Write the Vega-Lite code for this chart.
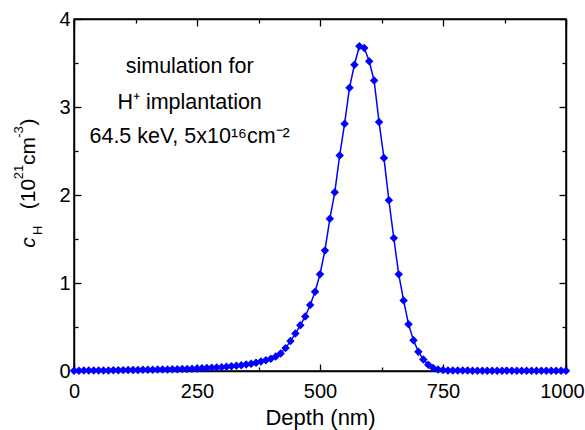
{
  "$schema": "https://vega.github.io/schema/vega-lite/v6.json",
  "width": 492,
  "height": 352,
  "autosize": {"type": "none"},
  "padding": {"left": 74, "top": 19, "right": 19, "bottom": 59},
  "config": {
    "font": "Liberation Sans",
    "view": {"stroke": "black", "strokeWidth": 1.5},
    "axis": {
      "grid": false,
      "domainColor": "black",
      "domainWidth": 1.5,
      "tickColor": "black",
      "tickWidth": 1.3,
      "labelFont": "Liberation Sans",
      "labelFontSize": 20,
      "labelColor": "black",
      "titleFont": "Liberation Sans",
      "titleFontSize": 22,
      "titleFontWeight": "normal",
      "titleColor": "black"
    }
  },
  "data": {
    "values": [
      {"depth": 0, "c": 0.003}, {"depth": 10, "c": 0.004}, {"depth": 20, "c": 0.005}, {"depth": 30, "c": 0.005},
      {"depth": 40, "c": 0.006}, {"depth": 50, "c": 0.006}, {"depth": 60, "c": 0.007}, {"depth": 70, "c": 0.007},
      {"depth": 80, "c": 0.008}, {"depth": 90, "c": 0.009}, {"depth": 100, "c": 0.01}, {"depth": 110, "c": 0.011},
      {"depth": 120, "c": 0.012}, {"depth": 130, "c": 0.012}, {"depth": 140, "c": 0.013}, {"depth": 150, "c": 0.014},
      {"depth": 160, "c": 0.015}, {"depth": 170, "c": 0.016}, {"depth": 180, "c": 0.017}, {"depth": 190, "c": 0.018},
      {"depth": 200, "c": 0.019}, {"depth": 210, "c": 0.02}, {"depth": 220, "c": 0.022}, {"depth": 230, "c": 0.024},
      {"depth": 240, "c": 0.026}, {"depth": 250, "c": 0.028}, {"depth": 260, "c": 0.03}, {"depth": 270, "c": 0.033},
      {"depth": 280, "c": 0.036}, {"depth": 290, "c": 0.04}, {"depth": 300, "c": 0.044}, {"depth": 310, "c": 0.048},
      {"depth": 320, "c": 0.053}, {"depth": 330, "c": 0.059}, {"depth": 340, "c": 0.066}, {"depth": 350, "c": 0.074},
      {"depth": 360, "c": 0.083}, {"depth": 370, "c": 0.094}, {"depth": 380, "c": 0.107}, {"depth": 390, "c": 0.122},
      {"depth": 400, "c": 0.14}, {"depth": 410, "c": 0.165}, {"depth": 420, "c": 0.2}, {"depth": 430, "c": 0.26},
      {"depth": 440, "c": 0.34}, {"depth": 450, "c": 0.425}, {"depth": 460, "c": 0.52}, {"depth": 470, "c": 0.62},
      {"depth": 480, "c": 0.75}, {"depth": 490, "c": 0.9}, {"depth": 500, "c": 1.1}, {"depth": 510, "c": 1.37},
      {"depth": 520, "c": 1.73}, {"depth": 530, "c": 2.03}, {"depth": 540, "c": 2.45}, {"depth": 550, "c": 2.81},
      {"depth": 560, "c": 3.22}, {"depth": 570, "c": 3.48}, {"depth": 580, "c": 3.69}, {"depth": 590, "c": 3.67},
      {"depth": 600, "c": 3.52}, {"depth": 610, "c": 3.3}, {"depth": 620, "c": 2.83}, {"depth": 630, "c": 2.42},
      {"depth": 640, "c": 1.94}, {"depth": 650, "c": 1.51}, {"depth": 660, "c": 1.1}, {"depth": 670, "c": 0.8},
      {"depth": 680, "c": 0.53}, {"depth": 690, "c": 0.35}, {"depth": 700, "c": 0.22}, {"depth": 710, "c": 0.13},
      {"depth": 720, "c": 0.07}, {"depth": 730, "c": 0.035}, {"depth": 740, "c": 0.018}, {"depth": 750, "c": 0.01},
      {"depth": 760, "c": 0.007}, {"depth": 770, "c": 0.006}, {"depth": 780, "c": 0.005}, {"depth": 790, "c": 0.005},
      {"depth": 800, "c": 0.005}, {"depth": 810, "c": 0.004}, {"depth": 820, "c": 0.004}, {"depth": 830, "c": 0.004},
      {"depth": 840, "c": 0.004}, {"depth": 850, "c": 0.004}, {"depth": 860, "c": 0.004}, {"depth": 870, "c": 0.004},
      {"depth": 880, "c": 0.004}, {"depth": 890, "c": 0.004}, {"depth": 900, "c": 0.004}, {"depth": 910, "c": 0.004},
      {"depth": 920, "c": 0.004}, {"depth": 930, "c": 0.004}, {"depth": 940, "c": 0.004}, {"depth": 950, "c": 0.004},
      {"depth": 960, "c": 0.004}, {"depth": 970, "c": 0.004}, {"depth": 980, "c": 0.004}, {"depth": 990, "c": 0.004},
      {"depth": 1000, "c": 0.004}
    ]
  },
  "layer": [
    {
      "mark": {"type": "line", "color": "#0000ff", "strokeWidth": 1.5},
      "encoding": {
        "x": {
          "field": "depth", "type": "quantitative",
          "scale": {"domain": [0, 1000], "nice": false, "zero": false},
          "axis": {
            "orient": "bottom",
            "title": "Depth (nm)",
            "titlePadding": 6,
            "values": [0, 125, 250, 375, 500, 625, 750, 875, 1000],
            "format": "d",
            "labelExpr": "datum.value % 250 === 0 ? datum.label : ''",
            "tickSize": {"condition": {"test": "datum.value % 250 === 0", "value": -7}, "value": -4},
            "labelOffset": {"condition": {"test": "datum.value === 1000", "value": -4}, "value": 0},
            "labelPadding": 17,
            "labelFlush": false
          }
        },
        "y": {
          "field": "c", "type": "quantitative",
          "scale": {"domain": [0, 4], "nice": false},
          "axis": {
            "orient": "left",
            "title": null,
            "values": [0, 0.5, 1, 1.5, 2, 2.5, 3, 3.5, 4],
            "format": "~g",
            "labelExpr": "datum.value % 1 === 0 ? datum.label : ''",
            "tickSize": {"condition": {"test": "datum.value % 1 === 0", "value": -7}, "value": -4},
            "labelPadding": 11,
            "labelFlush": false
          }
        }
      }
    },
    {
      "mark": {"type": "point", "shape": "diamond", "filled": true, "color": "#0000ff", "size": 72, "opacity": 1},
      "encoding": {
        "x": {
          "field": "depth", "type": "quantitative",
          "scale": {"domain": [0, 1000], "nice": false, "zero": false},
          "axis": {
            "orient": "top", "title": null, "labels": false,
            "values": [0, 125, 250, 375, 500, 625, 750, 875, 1000],
            "tickSize": {"condition": {"test": "datum.value % 250 === 0", "value": -7}, "value": -4}
          }
        },
        "y": {
          "field": "c", "type": "quantitative",
          "scale": {"domain": [0, 4], "nice": false},
          "axis": {
            "orient": "right", "title": null, "labels": false,
            "values": [0, 0.5, 1, 1.5, 2, 2.5, 3, 3.5, 4],
            "tickSize": {"condition": {"test": "datum.value % 1 === 0", "value": -7}, "value": -4}
          }
        }
      }
    },
    {
      "data": {"values": [
        {"t": "simulation for", "x": 235, "y": 3.383},
        {"t": "H⁺ implantation", "x": 235, "y": 2.974},
        {"t": "64.5 keV, 5x10¹⁶cm⁻²", "x": 235, "y": 2.595}
      ]},
      "mark": {"type": "text", "font": "Liberation Sans", "fontSize": 21.5, "align": "center", "baseline": "alphabetic", "color": "black"},
      "encoding": {
        "x": {"field": "x", "type": "quantitative", "axis": null},
        "y": {"field": "y", "type": "quantitative", "axis": null},
        "text": {"field": "t"}
      }
    },
    {
      "data": {"values": [{"t": "c", "x": -91.7, "y": 1.46}]},
      "mark": {"type": "text", "font": "Liberation Sans", "fontSize": 21, "fontStyle": "italic", "angle": 270, "align": "center", "baseline": "middle", "color": "black"},
      "encoding": {
        "x": {"field": "x", "type": "quantitative", "axis": null},
        "y": {"field": "y", "type": "quantitative", "axis": null},
        "text": {"field": "t"}
      }
    },
    {
      "data": {"values": [
        {"t": "(10", "x": -91.7, "y": 2.01},
        {"t": "cm", "x": -91.7, "y": 2.5},
        {"t": ")", "x": -91.7, "y": 2.83}
      ]},
      "mark": {"type": "text", "font": "Liberation Sans", "fontSize": 21, "angle": 270, "align": "center", "baseline": "middle", "color": "black"},
      "encoding": {
        "x": {"field": "x", "type": "quantitative", "axis": null},
        "y": {"field": "y", "type": "quantitative", "axis": null},
        "text": {"field": "t"}
      }
    },
    {
      "data": {"values": [
        {"t": "H", "x": -74, "y": 1.6},
        {"t": "21", "x": -111, "y": 2.26},
        {"t": "-3", "x": -111, "y": 2.715}
      ]},
      "mark": {"type": "text", "font": "Liberation Sans", "fontSize": 13, "angle": 270, "align": "center", "baseline": "middle", "color": "black"},
      "encoding": {
        "x": {"field": "x", "type": "quantitative", "axis": null},
        "y": {"field": "y", "type": "quantitative", "axis": null},
        "text": {"field": "t"}
      }
    }
  ],
  "resolve": {"axis": {"x": "independent", "y": "independent"}}
}
